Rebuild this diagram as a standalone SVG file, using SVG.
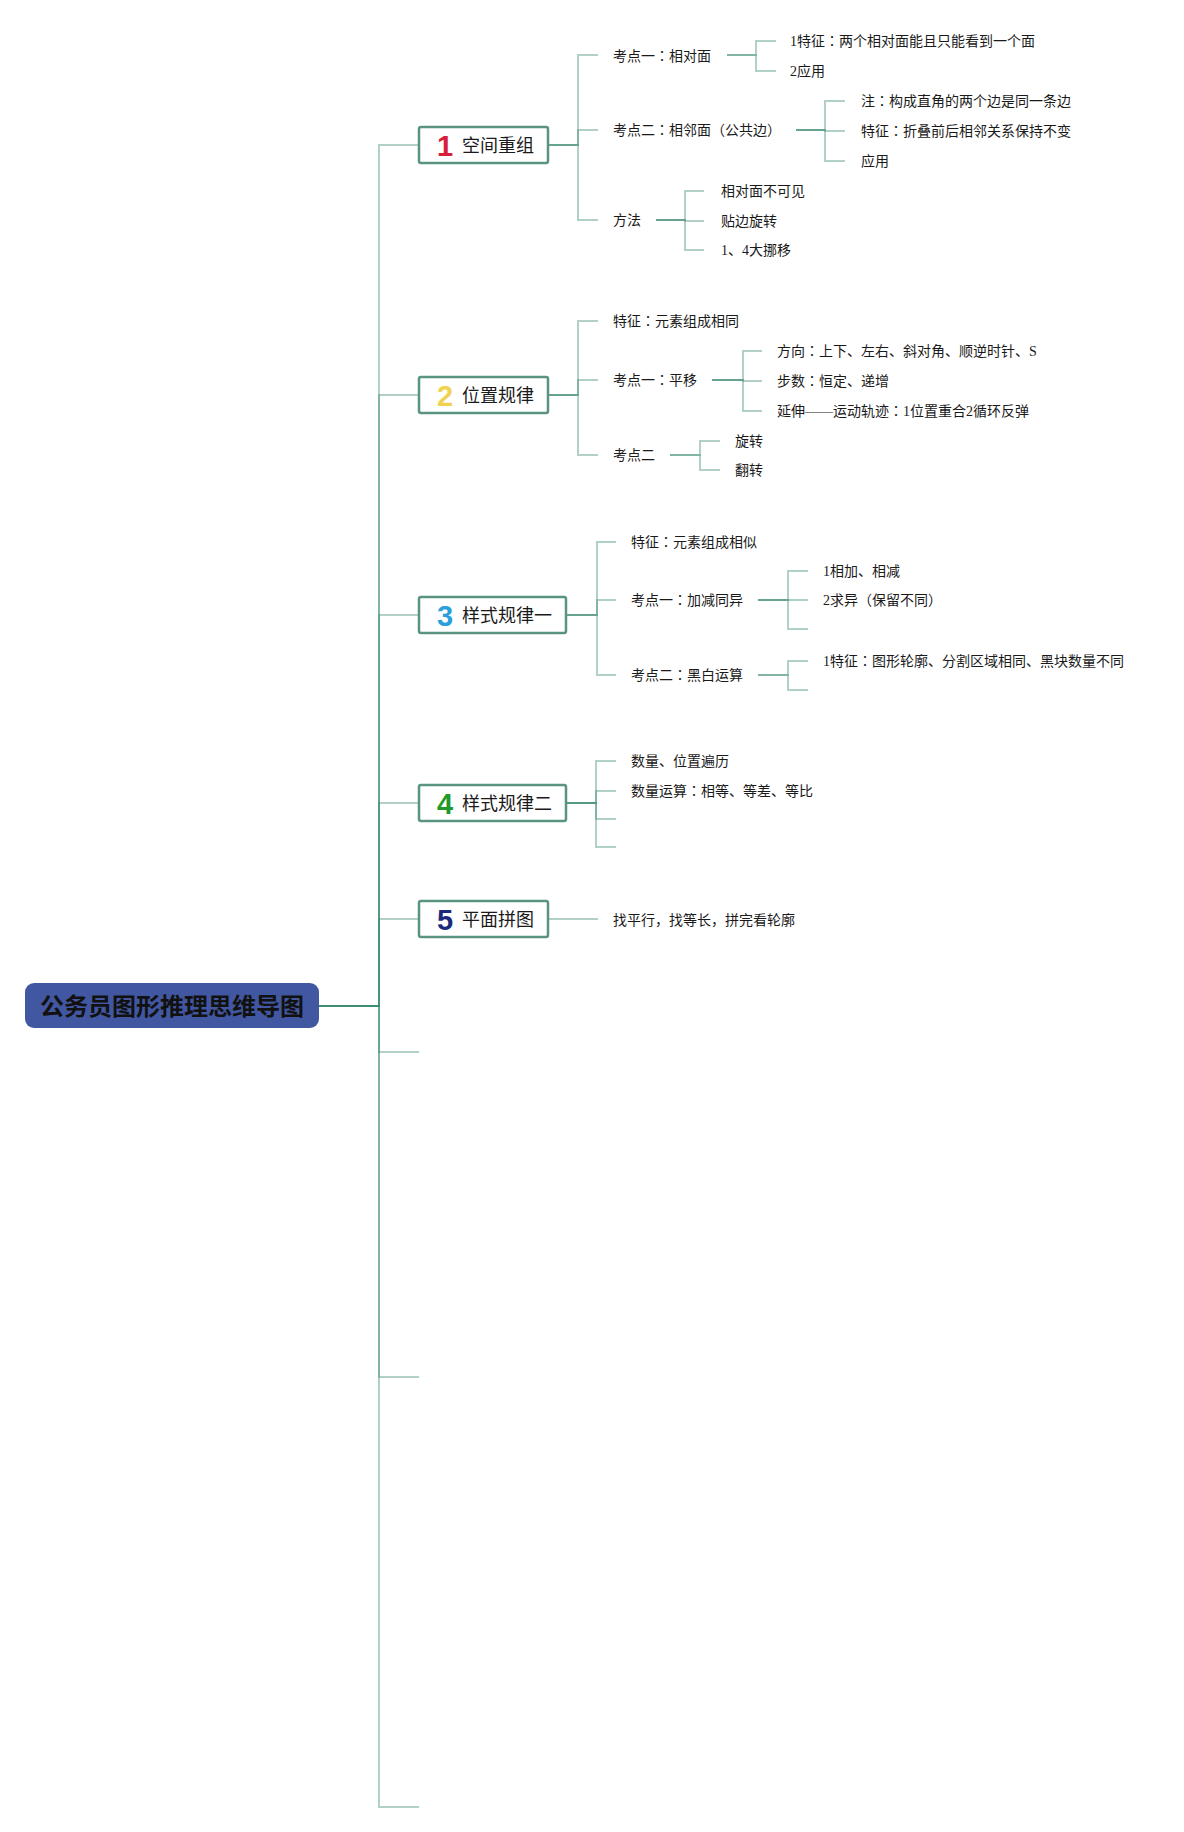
<svg xmlns="http://www.w3.org/2000/svg" width="1184" height="1832" viewBox="0 0 1184 1832">
<style>
.c{fill:none;stroke:#3d8a72;stroke-opacity:0.4;stroke-width:2}
.box{fill:#ffffff;stroke:#5b9383;stroke-width:2.5}
.num{font-family:"Liberation Sans",Arial,sans-serif;font-weight:bold;font-size:29px}
.nt{font-family:"Noto Sans CJK SC","Liberation Sans",sans-serif;font-size:18px;fill:#1a1a1a}
.t{font-family:"Liberation Serif","Noto Sans CJK SC",serif;font-size:14px;fill:#1a1a1a}
.p{font-family:"Noto Sans CJK TC","Noto Sans CJK SC",sans-serif}
.root{font-family:"Noto Sans CJK SC","Liberation Sans",sans-serif;font-size:24px;font-weight:bold;fill:#111111}
</style>
<rect width="1184" height="1832" fill="#ffffff"/>
<g id="connectors">
<path class="c" d="M319,1006 H379 V145 H419"/>
<path class="c" d="M319,1006 H379 V395 H419"/>
<path class="c" d="M319,1006 H379 V615 H419"/>
<path class="c" d="M319,1006 H379 V803 H419"/>
<path class="c" d="M319,1006 H379 V919 H419"/>
<path class="c" d="M319,1006 H379 V1052 H419"/>
<path class="c" d="M319,1006 H379 V1377 H419"/>
<path class="c" d="M319,1006 H379 V1807 H419"/>
<path class="c" d="M548,145 H578 V55 H598"/>
<path class="c" d="M548,145 H578 V130 H598"/>
<path class="c" d="M548,145 H578 V220 H598"/>
<path class="c" d="M727,55 H756 V41 H776"/>
<path class="c" d="M727,55 H756 V71 H776"/>
<path class="c" d="M796,130 H825 V101 H845"/>
<path class="c" d="M796,130 H825 V131 H845"/>
<path class="c" d="M796,130 H825 V161 H845"/>
<path class="c" d="M656,220 H685 V191 H704"/>
<path class="c" d="M656,220 H685 V221 H704"/>
<path class="c" d="M656,220 H685 V250 H704"/>
<path class="c" d="M548,395 H578 V321 H598"/>
<path class="c" d="M548,395 H578 V380 H598"/>
<path class="c" d="M548,395 H578 V455 H598"/>
<path class="c" d="M712,380 H743 V351 H762"/>
<path class="c" d="M712,380 H743 V381 H762"/>
<path class="c" d="M712,380 H743 V411 H762"/>
<path class="c" d="M670,455 H700 V441 H720"/>
<path class="c" d="M670,455 H700 V470 H720"/>
<path class="c" d="M566,615 H597 V542 H616"/>
<path class="c" d="M566,615 H597 V600 H616"/>
<path class="c" d="M566,615 H597 V675 H616"/>
<path class="c" d="M758,600 H788 V571 H808"/>
<path class="c" d="M758,600 H788 V600 H808"/>
<path class="c" d="M758,600 H788 V629 H808"/>
<path class="c" d="M758,675 H788 V661 H808"/>
<path class="c" d="M758,675 H788 V690 H808"/>
<path class="c" d="M566,803 H596 V761 H616"/>
<path class="c" d="M566,803 H596 V791 H616"/>
<path class="c" d="M566,803 H596 V819 H616"/>
<path class="c" d="M566,803 H596 V847 H616"/>
<path class="c" d="M548,919 H598"/>
</g>
<g id="root">
<rect x="25" y="983" width="294" height="45" rx="9" fill="#4257a1"/>
<text class="root" x="172" y="1015" text-anchor="middle">公务员图形推理思维导图</text>
</g>
<g id="node1">
<rect class="box" x="419" y="127" width="129" height="36" rx="2"/>
<text class="num" x="437" y="156" fill="#d81e3a">1</text>
<text class="nt" x="462" y="151.8">空间重组</text>
</g>
<g id="node1-children">
<text class="t" x="613" y="60.8">考点一<tspan class="p">：</tspan>相对面</text>
<text class="t" x="613" y="135.3">考点二<tspan class="p">：</tspan>相邻面（公共边）</text>
<text class="t" x="613" y="225.3">方法</text>
<text class="t" x="790" y="46.3">1特征<tspan class="p">：</tspan>两个相对面能且只能看到一个面</text>
<text class="t" x="790" y="76.3">2应用</text>
<text class="t" x="861" y="106.3">注<tspan class="p">：</tspan>构成直角的两个边是同一条边</text>
<text class="t" x="861" y="136.3">特征<tspan class="p">：</tspan>折叠前后相邻关系保持不变</text>
<text class="t" x="861" y="166.3">应用</text>
<text class="t" x="721" y="196.3">相对面不可见</text>
<text class="t" x="721" y="226.3">贴边旋转</text>
<text class="t" x="721" y="255.3">1、4大挪移</text>
</g>
<g id="node2">
<rect class="box" x="419" y="377" width="129" height="36" rx="2"/>
<text class="num" x="437" y="406" fill="#f0d24e">2</text>
<text class="nt" x="462" y="401.8">位置规律</text>
</g>
<g id="node2-children">
<text class="t" x="613" y="326.3">特征<tspan class="p">：</tspan>元素组成相同</text>
<text class="t" x="613" y="385.3">考点一<tspan class="p">：</tspan>平移</text>
<text class="t" x="613" y="460.3">考点二</text>
<text class="t" x="777" y="356.3">方向<tspan class="p">：</tspan>上下、左右、斜对角、顺逆时针、S</text>
<text class="t" x="777" y="386.3">步数<tspan class="p">：</tspan>恒定、递增</text>
<text class="t" x="777" y="416.3">延伸——运动轨迹<tspan class="p">：</tspan>1位置重合2循环反弹</text>
<text class="t" x="735" y="446.3">旋转</text>
<text class="t" x="735" y="475.3">翻转</text>
</g>
<g id="node3">
<rect class="box" x="419" y="597" width="147" height="36" rx="2"/>
<text class="num" x="437" y="626" fill="#2a9fdc">3</text>
<text class="nt" x="462" y="621.8">样式规律一</text>
</g>
<g id="node3-children">
<text class="t" x="631" y="547.3">特征<tspan class="p">：</tspan>元素组成相似</text>
<text class="t" x="631" y="605.3">考点一<tspan class="p">：</tspan>加减同异</text>
<text class="t" x="631" y="680.3">考点二<tspan class="p">：</tspan>黑白运算</text>
<text class="t" x="823" y="576.3">1相加、相减</text>
<text class="t" x="823" y="605.3">2求异（保留不同）</text>
<text class="t" x="823" y="666.3">1特征<tspan class="p">：</tspan>图形轮廓、分割区域相同、黑块数量不同</text>
</g>
<g id="node4">
<rect class="box" x="419" y="785" width="147" height="36" rx="2"/>
<text class="num" x="437" y="814" fill="#1f9a2a">4</text>
<text class="nt" x="462" y="809.8">样式规律二</text>
</g>
<g id="node4-children">
<text class="t" x="631" y="766.3">数量、位置遍历</text>
<text class="t" x="631" y="796.3">数量运算<tspan class="p">：</tspan>相等、等差、等比</text>
</g>
<g id="node5">
<rect class="box" x="419" y="901" width="129" height="36" rx="2"/>
<text class="num" x="437" y="930" fill="#1c2a7e">5</text>
<text class="nt" x="462" y="925.8">平面拼图</text>
</g>
<g id="node5-children">
<text class="t" x="613" y="925.3">找平行，找等长，拼完看轮廓</text>
</g>
</svg>
